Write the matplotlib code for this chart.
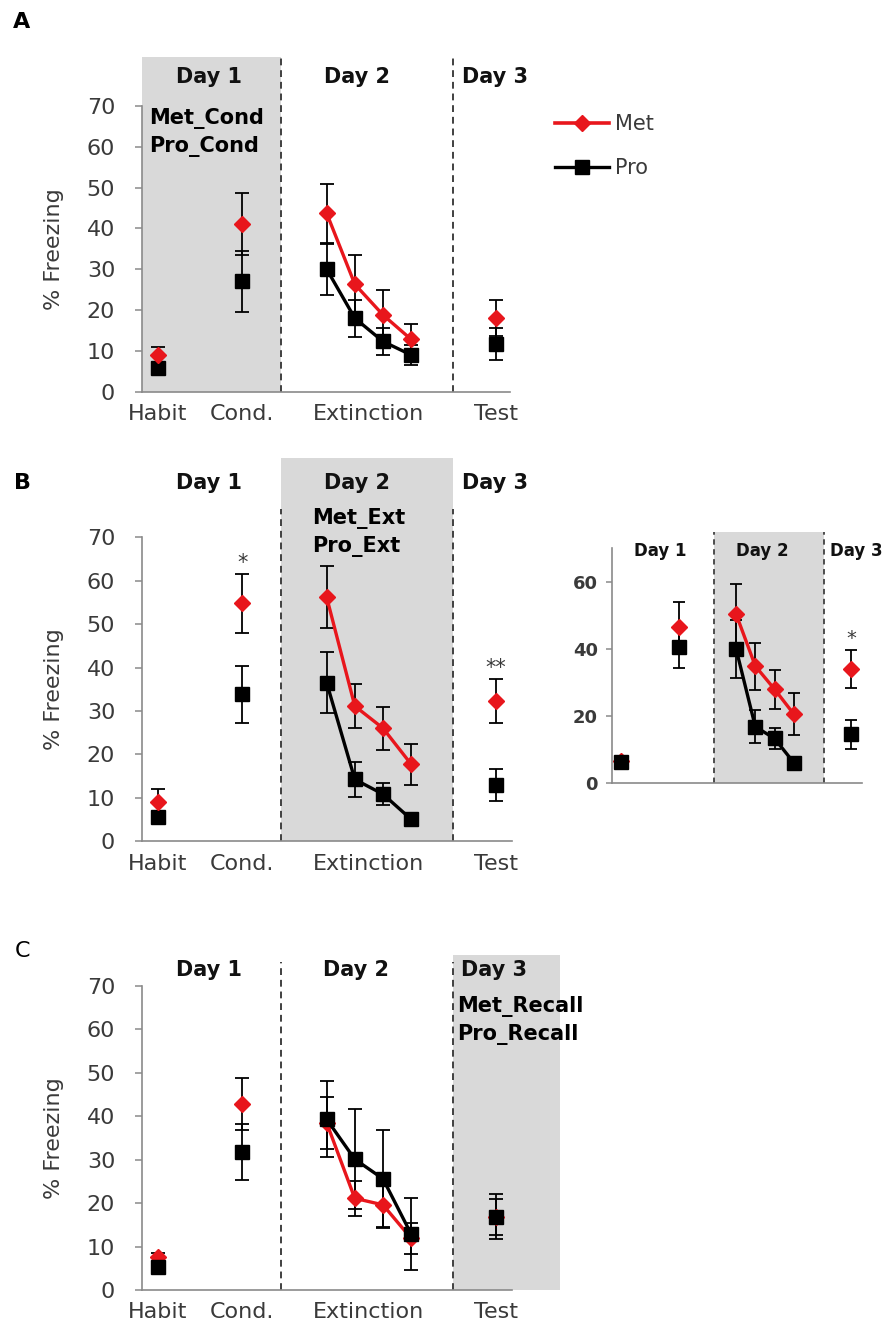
import matplotlib
matplotlib.use("Agg")
import matplotlib.pyplot as plt
from matplotlib.lines import Line2D
from matplotlib.transforms import blended_transform_factory

# ---------------- data ----------------
x_labels = ["Habit", "Cond.", "Extinction", "Test"]
x_pos = [0, 3, 6, 7, 8, 9, 12]          # Habit, Cond, Ext1-4, Test
day_labels = ["Day 1", "Day 2", "Day 3"]

A_met = [9.0, 41.1, 43.7, 26.3, 18.8, 12.8, 18.1]
A_met_err = [2.0, 7.5, 7.3, 7.2, 6.1, 3.8, 4.4]
A_pro = [5.7, 27.0, 30.0, 18.0, 12.3, 9.0, 11.7]
A_pro_err = [1.0, 7.5, 6.3, 4.5, 3.2, 2.5, 4.0]

B_met = [8.9, 54.8, 56.2, 31.1, 26.0, 17.7, 32.3]
B_met_err = [3.2, 6.8, 7.2, 5.0, 5.0, 4.7, 5.0]
B_pro = [5.6, 33.8, 36.5, 14.2, 10.8, 5.0, 12.9]
B_pro_err = [1.0, 6.5, 7.0, 4.0, 2.5, 1.0, 3.7]

Bi_met = [6.5, 46.6, 50.3, 34.8, 27.9, 20.5, 33.9]
Bi_met_err = [1.0, 7.2, 9.0, 7.0, 5.8, 6.2, 5.7]
Bi_pro = [6.3, 40.6, 39.9, 16.7, 13.2, 6.0, 14.4]
Bi_pro_err = [1.0, 6.3, 8.6, 5.0, 3.0, 1.0, 4.2]

C_met = [7.5, 42.8, 38.5, 21.1, 19.6, 11.9, 16.8]
C_met_err = [1.0, 6.0, 6.0, 4.0, 5.3, 3.5, 4.2]
C_pro = [5.2, 31.8, 39.3, 30.1, 25.6, 12.9, 16.9]
C_pro_err = [1.0, 6.5, 8.8, 11.5, 11.2, 8.2, 5.1]

RED = "#e8161c"
BLACK = "#000000"
GRAY = "#d9d9d9"
TXT = "#3a3a3a"

W, H = 889, 1327
fig = plt.figure(figsize=(W / 100, H / 100), dpi=100)


def rect(l, r, t, b):
    return [l / W, 1 - b / H, (r - l) / W, (b - t) / H]


def draw_series(ax, y_met, e_met, y_pro, e_pro, red_on_top, ms_d=8.5, ms_s=10, cap=5, lw=2.4):
    segs = [(0, 1), (1, 2), (2, 6), (6, 7)]
    for y, e in ((y_met, e_met), (y_pro, e_pro)):
        ax.errorbar(x_pos, y, yerr=e, fmt="none", ecolor="black", elinewidth=1.3,
                    capsize=cap, capthick=1.3, zorder=3)
    order = [("pro", y_pro), ("met", y_met)] if red_on_top else [("met", y_met), ("pro", y_pro)]
    z = 4
    for name, y in order:
        col = RED if name == "met" else BLACK
        mk = "D" if name == "met" else "s"
        ms = ms_d if name == "met" else ms_s
        for a, b in segs:
            ax.plot(x_pos[a:b], y[a:b], color=col, lw=lw, marker=mk, ms=ms,
                    mec=col, mfc=col, zorder=z)
        z += 1


def style_axes(ax, xlim, ylim, ybound, yticks, tick_fs=16, spine_end=None):
    ax.set_xlim(*xlim)
    ax.set_ylim(*ylim)
    ax.patch.set_alpha(0)
    for s in ("top", "right"):
        ax.spines[s].set_visible(False)
    for s in ("left", "bottom"):
        ax.spines[s].set_color("#8a8a8a")
        ax.spines[s].set_linewidth(1.2)
    ax.spines["left"].set_bounds(0, ybound)
    if spine_end is not None:
        ax.spines["bottom"].set_bounds(xlim[0], spine_end)
    ax.set_yticks(yticks)
    ax.tick_params(axis="y", length=5, width=1.1, color="#8a8a8a", pad=14,
                   labelsize=tick_fs, labelcolor=TXT)


def main_panel(ax, width_px, xlim, ylim, shade, dashes, day_y, y_met, e_met, y_pro, e_pro,
               red_on_top, spine_end=None, dash_top=None):
    style_axes(ax, xlim, ylim, 70, range(0, 71, 10), spine_end=spine_end)
    ax.axvspan(shade[0], shade[1], color=GRAY, zorder=0, lw=0)
    for d in dashes:
        ax.plot([d, d], [0, dash_top if dash_top else ylim[1]], color="#404040",
                lw=1.4, ls=(0, (3.5, 2.5)), zorder=1)
    for lab, xc in zip(day_labels, [1.82, 7.06, 11.96]):
        ax.text(xc, day_y, lab, ha="center", va="center", fontsize=15,
                fontweight="bold", color="#111111")
    ax.set_xticks([0, 3, 7.5, 12])
    ax.set_xticklabels(x_labels)
    ax.tick_params(axis="x", length=0, pad=9, labelsize=16, labelcolor=TXT)
    ax.set_ylabel("% Freezing", fontsize=16, color=TXT)
    ax.yaxis.set_label_coords(-78.0 / width_px, 35,
                              transform=blended_transform_factory(ax.transAxes, ax.transData))
    draw_series(ax, y_met, e_met, y_pro, e_pro, red_on_top)


# ---------------- Panel A ----------------
axA = fig.add_axes(rect(141.6, 510.1, 57, 391.7))
main_panel(axA, 510.1 - 141.6, (-0.57, 12.51), (0, 82.0), (-0.57, 4.37), [4.37, 10.48], 77.1,
           A_met, A_met_err, A_pro, A_pro_err, red_on_top=True)
axA.text(-0.3, 67.0, "Met_Cond", fontsize=15, fontweight="bold", va="center", ha="left")
axA.text(-0.3, 60.0, "Pro_Cond", fontsize=15, fontweight="bold", va="center", ha="left")

handles = [Line2D([], [], color=RED, lw=2.6, marker="D", ms=8.5, mfc=RED, mec=RED),
           Line2D([], [], color=BLACK, lw=2.4, marker="s", ms=10, mfc=BLACK, mec=BLACK)]
leg = fig.legend(handles, ["Met", "Pro"], loc="upper left",
                 bbox_to_anchor=(555 / W, 1 - 114 / H), frameon=False, fontsize=15,
                 handlelength=2.6, handletextpad=0.3, labelspacing=1.15,
                 borderpad=0, borderaxespad=0)
for t in leg.get_texts():
    t.set_color(TXT)

# ---------------- Panel B ----------------
axB = fig.add_axes(rect(141.6, 512, 458, 841))
main_panel(axB, 512 - 141.6, (-0.57, 12.58), (0, 88.3), (4.37, 10.49), [4.37, 10.49], 82.5,
           B_met, B_met_err, B_pro, B_pro_err, red_on_top=True, dash_top=76.5)
axB.text(5.48, 74.4, "Met_Ext", fontsize=15, fontweight="bold", va="center", ha="left")
axB.text(5.48, 67.8, "Pro_Ext", fontsize=15, fontweight="bold", va="center", ha="left")
axB.text(x_pos[1], 64.0, "*", fontsize=15, ha="center", va="center", color=TXT)
axB.text(x_pos[6], 39.8, "**", fontsize=15, ha="center", va="center", color=TXT)

# ---------------- Inset B ----------------
axI = fig.add_axes(rect(611.7, 861.7, 531.7, 782.7))
style_axes(axI, (-0.48, 12.54), (0, 74.9), 70, [0, 20, 40, 60], tick_fs=13)
axI.tick_params(axis="y", pad=6, length=4)
for lab in axI.get_yticklabels():
    lab.set_fontweight("bold")
axI.set_xticks([])
axI.axvspan(4.84, 10.59, color=GRAY, zorder=0, lw=0)
for d in [4.84, 10.59]:
    axI.plot([d, d], [0, 74.9], color="#404040", lw=1.3, ls=(0, (3, 2.5)), zorder=1)
for lab, xc in zip(day_labels, [2.04, 7.34, 12.26]):
    axI.text(xc, 69, lab, ha="center", va="center", fontsize=12, fontweight="bold",
             color="#111111")
draw_series(axI, Bi_met, Bi_met_err, Bi_pro, Bi_pro_err, red_on_top=False,
            ms_d=8.5, ms_s=10, cap=4.5, lw=2.4)
axI.text(x_pos[6], 43.0, "*", fontsize=14, ha="center", va="center", color=TXT)

# ---------------- Panel C ----------------
axC = fig.add_axes(rect(141.6, 559.5, 955, 1290))
main_panel(axC, 559.5 - 141.6, (-0.57, 14.27), (0, 77.1), (10.49, 14.27), [4.37, 10.49], 73.7,
           C_met, C_met_err, C_pro, C_pro_err, red_on_top=False, spine_end=12.58,
           dash_top=75.6)
axC.text(10.64, 65.2, "Met_Recall", fontsize=15, fontweight="bold", va="center", ha="left")
axC.text(10.64, 58.9, "Pro_Recall", fontsize=15, fontweight="bold", va="center", ha="left")

# panel letters
fig.text(22 / W, 1 - 22 / H, "A", fontsize=16, fontweight="bold", ha="center", va="center")
fig.text(22 / W, 1 - 483 / H, "B", fontsize=16, fontweight="bold", ha="center", va="center")
fig.text(22 / W, 1 - 951 / H, "C", fontsize=16, ha="center", va="center")

fig.savefig("out.png", dpi=100, facecolor="white")
